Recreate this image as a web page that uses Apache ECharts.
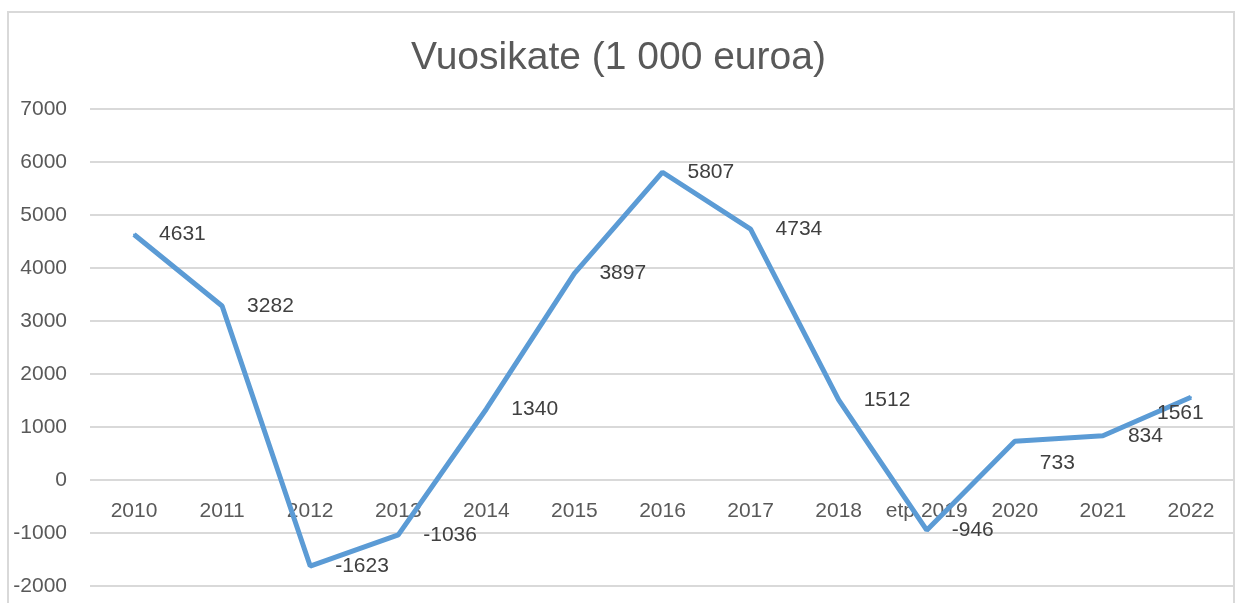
<!DOCTYPE html>
<html>
<head>
<meta charset="utf-8">
<script src="https://cdn.jsdelivr.net/npm/echarts@6/dist/echarts.min.js"></script>
<style>
  html, body { margin: 0; padding: 0; background: #fff; }
  #main { width: 1237px; height: 603px; }
</style>
</head>
<body>
<div id="main"></div>
<script>
// vuodet ja vuosikate (1 000 euroa)
const years = ['2010', '2011', '2012', '2013', '2014', '2015', '2016', '2017', '2018', 'etp 2019', '2020', '2021', '2022'];
const vuosikate = [4631, 3282, -1623, -1036, 1340, 3897, 5807, 4734, 1512, -946, 733, 834, 1561];
const yMin = -2000;
const yMax = 7000;

const chart = echarts.init(document.getElementById('main'));
const font = '"Liberation Sans", Arial, sans-serif';

const gridTop = 109;
const gridBottom = 17;
const plotH = 603 - gridTop - gridBottom;
// x-akselin tekstit nollaviivan alle
const zeroOffset = -plotH * (0 - yMin) / (yMax - yMin);

// muutama otsake siirretty kuten alkuperäisessä
const labelTweaks = {
  '2020': { dx: 0, dy: 22 },
  '2022': { dx: -59, dy: 16 }
};

const option = {
  animation: false,
  backgroundColor: '#fff',
  textStyle: { fontFamily: font },
  title: {
    text: 'Vuosikate (1 000 euroa)',
    left: 'center',
    top: 34,
    textStyle: { fontFamily: font, fontSize: 39, fontWeight: 'normal', color: '#595959' }
  },
  graphic: [
    {
      type: 'rect',
      shape: { x: 8, y: 12, width: 1226, height: 620 },
      style: { fill: 'none', stroke: '#d9d9d9', lineWidth: 2 },
      silent: true
    }
  ],
  grid: {
    left: 90,
    right: 2,
    top: gridTop,
    bottom: gridBottom,
    containLabel: false,
    outerBoundsMode: 'none'
  },
  xAxis: {
    type: 'category',
    data: years,
    position: 'bottom',
    offset: zeroOffset,
    boundaryGap: true,
    axisLine: { show: false, onZero: false },
    axisTick: { show: false },
    axisLabel: { show: true, color: '#595959', fontSize: 21, margin: 21, interval: 0 }
  },
  yAxis: {
    type: 'value',
    min: yMin,
    max: yMax,
    interval: 1000,
    axisLine: { show: false },
    axisTick: { show: false },
    axisLabel: { color: '#595959', fontSize: 21, margin: 23, formatter: (v) => String(v) },
    splitLine: { lineStyle: { color: '#d9d9d9', width: 2 } }
  },
  series: [
    {
      type: 'line',
      data: vuosikate,
      symbol: 'circle',
      symbolSize: 2,
      showSymbol: true,
      itemStyle: { color: '#5b9bd5' },
      lineStyle: { color: '#5b9bd5', width: 5 },
      label: {
        show: true,
        position: 'right',
        distance: 24,
        color: '#404040',
        fontSize: 21,
        formatter: (p) => String(p.value)
      },
      labelLayout: (params) => {
        const t = labelTweaks[years[params.dataIndex]];
        return t ? { dx: t.dx, dy: t.dy, hideOverlap: false } : { hideOverlap: false };
      }
    }
  ]
};

chart.setOption(option);
</script>
</body>
</html>
